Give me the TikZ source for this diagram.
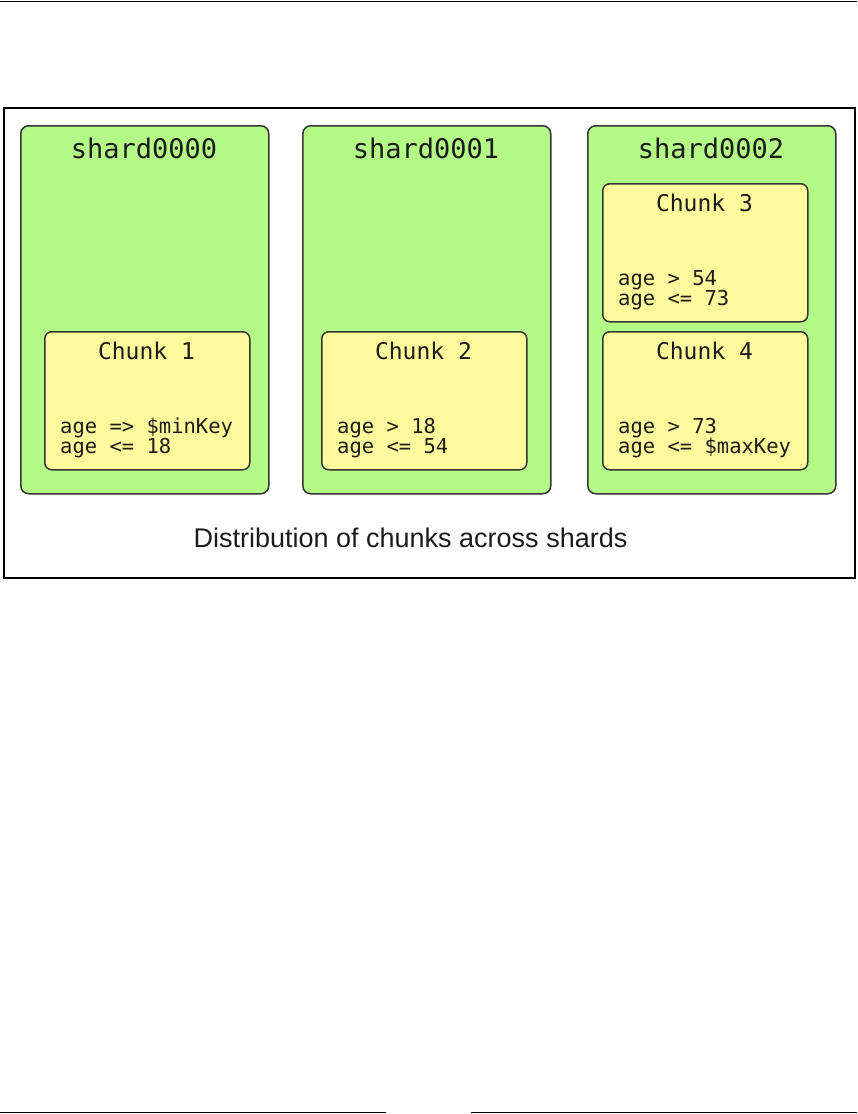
\documentclass[tikz,border=0pt]{standalone}
\usepackage{fontspec}
\setmainfont{Liberation Sans}
\newfontfamily\monofont{DejaVu Sans Mono}
\definecolor{shardgreen}{HTML}{B4FA86}
\definecolor{chunkyellow}{HTML}{FFFA9C}
\definecolor{edgegray}{HTML}{353535}
\definecolor{inkdark}{HTML}{1C1C1C}
\begin{document}
\begin{tikzpicture}[x=1pt,y=-1pt,
  shardbox/.style={draw=edgegray, fill=shardgreen, line width=1.5pt, rounded corners=8pt,
    inner sep=0pt, anchor=north west, minimum width=248pt, minimum height=368pt},
  chunkbox/.style={draw=edgegray, fill=chunkyellow, line width=1.5pt, rounded corners=7pt,
    inner sep=0pt, anchor=north west, minimum width=205pt, minimum height=138pt},
  shardtitle/.style={inner sep=0pt, anchor=base, text=inkdark, font=\monofont\fontsize{27}{32}\selectfont},
  chunktitle/.style={inner sep=0pt, anchor=base, text=inkdark, font=\monofont\fontsize{23}{28}\selectfont},
  rangetext/.style={inner sep=0pt, anchor=base west, text=inkdark, font=\monofont\fontsize{20.5}{24}\selectfont},
  captiontext/.style={inner sep=0pt, anchor=base, text=inkdark, font=\fontsize{27}{32}\selectfont},
  framebox/.style={draw=black, line width=2pt, inner sep=0pt, anchor=north west,
    minimum width=851pt, minimum height=470pt}
]
\useasboundingbox (0,0) rectangle (857,1114);
% page rules
\coordinate (topL) at (0,1.5);
\coordinate (topR) at (857,1.5);
\draw[line width=1.5pt] (topL) -- (topR);
\coordinate (botLa) at (0,1112.5);
\coordinate (botLb) at (386,1112.5);
\coordinate (botRa) at (471,1112.5);
\coordinate (botRb) at (857,1112.5);
\draw[line width=1pt] (botLa) -- (botLb);
\draw[line width=1pt] (botRa) -- (botRb);
% frame
\node[framebox] (frame) at (3,107) {};
% shards
\node[shardbox] (s0) at (20,125) {};
\node[shardbox] (s1) at (302,125) {};
\node[shardbox] (s2) at (587,125) {};
\node[shardtitle] (s0t) at (144,158) {shard0000};
\node[shardtitle] (s1t) at (426,158) {shard0001};
\node[shardtitle] (s2t) at (711,158) {shard0002};
% chunks
\node[chunkbox] (c1) at (44,331) {};
\node[chunkbox] (c2) at (321,331) {};
\node[chunkbox] (c3) at (602,183) {};
\node[chunkbox] (c4) at (602,331) {};
\node[chunktitle] (c1t) at (146.5,359) {Chunk 1};
\node[chunktitle] (c2t) at (423.5,359) {Chunk 2};
\node[chunktitle] (c3t) at (704.5,211) {Chunk 3};
\node[chunktitle] (c4t) at (704.5,359) {Chunk 4};
\node[rangetext] (c1a) at (60,433) {age => \$minKey};
\node[rangetext] (c1b) at (60,453) {age <= 18};
\node[rangetext] (c2a) at (337,433) {age > 18};
\node[rangetext] (c2b) at (337,453) {age <= 54};
\node[rangetext] (c3a) at (618,285) {age > 54};
\node[rangetext] (c3b) at (618,305) {age <= 73};
\node[rangetext] (c4a) at (618,433) {age > 73};
\node[rangetext] (c4b) at (618,453) {age <= \$maxKey};
% caption
\node[captiontext] (cap) at (410.5,547) {Distribution of chunks across shards};
\end{tikzpicture}
\end{document}
